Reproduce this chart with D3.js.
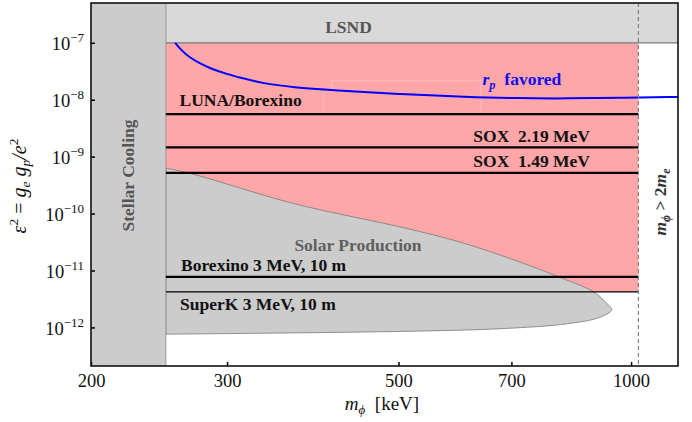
<!DOCTYPE html>
<html>
<head>
<meta charset="utf-8">
<script src="https://cdn.jsdelivr.net/npm/d3@7"></script>
<style>
  body { margin: 0; background: #fff; }
  svg { display: block; font-family: "Liberation Serif", "DejaVu Serif", serif; }
</style>
</head>
<body>
<svg width="692" height="422"></svg>
<script>
// axis ranges and ticks
const massDomain = [200, 1150];
const epsDomain = [2.1e-13, 5e-7];
const massTicks = [200, 300, 500, 700, 1000];
const epsTicks = [-12, -11, -10, -9, -8, -7];

// excluded / allowed regions (keV, eps^2)
const stellarEdge = 250;
const pairThreshold = 1022;
const lsndBound = 1e-7;
const pinkBottom = 4.2e-12;

// horizontal sensitivity lines
const limitNames = ['LUNA/Borexino', 'SOX  2.19 MeV', 'SOX  1.49 MeV', 'Borexino 3 MeV, 10 m', 'SuperK 3 MeV, 10 m'];
const limitValues = [5.6e-9, 1.45e-9, 5.2e-10, 7.7e-12, 4.2e-12];

// r_p favored curve
const rpMass = [257, 262, 268, 276, 285.3, 299.8, 315, 331, 366, 412, 503, 613, 712, 826, 968, 1151];
const rpEps = [1e-7, 7.3e-8, 5.6e-8, 4.4e-8, 3.55e-8, 2.82e-8, 2.37e-8, 1.98e-8, 1.64e-8, 1.47e-8, 1.25e-8, 1.12e-8, 1.06e-8, 1.05e-8, 1.08e-8, 1.12e-8];

// solar production region outline (upper edge to tip, then lower edge back)
const solarMass = [250, 271.5, 366, 518, 613, 748, 810, 895, 931, 944, 913, 827, 678, 503, 250];
const solarEps = [6.3e-10, 4.9e-10, 1.5e-10, 5.3e-11, 2.9e-11, 1.15e-11, 7.5e-12, 4.2e-12, 2.6e-12, 2.05e-12, 1.52e-12, 1.16e-12, 9.5e-13, 8.5e-13, 7.6e-13];

const width = 692;
const height = 422;
const margin = {left: 91, top: 3, right: 14, bottom: 56};

const x = d3.scaleLog().domain(massDomain).range([margin.left, width - margin.right]);
const y = d3.scaleLog().domain(epsDomain).range([height - margin.bottom, margin.top]);

const svg = d3.select('svg');
const x0 = x.range()[0], x1 = x.range()[1];
const yTop = y.range()[1], yBot = y.range()[0];

// pink allowed region
svg.append('rect')
    .attr('x', x(stellarEdge))
    .attr('y', y(lsndBound))
    .attr('width', x(pairThreshold) - x(stellarEdge))
    .attr('height', y(pinkBottom) - y(lsndBound))
    .attr('fill', '#ffa6a8')

// faint label-box artifacts in the pink area
svg.append('path')
    .attr('d', 'M323.3,112V92.5M331.7,90V80.3H481V112')
    .attr('fill', 'none')
    .attr('stroke', 'rgba(255,255,255,0.35)')
    .attr('stroke-width', 0.8)

// LSND
svg.append('rect')
    .attr('x', x(stellarEdge))
    .attr('y', yTop)
    .attr('width', x1 - x(stellarEdge))
    .attr('height', y(lsndBound) - yTop)
    .attr('fill', '#d9d9d9')
svg.append('line')
    .attr('x1', x(stellarEdge)).attr('x2', x1)
    .attr('y1', y(lsndBound)).attr('y2', y(lsndBound))
    .attr('stroke', '#777').attr('stroke-width', 1.2)

// Solar production
const solarPts = solarMass.map((m, i) => [x(m), y(solarEps[i])]);
svg.append('path')
    .attr('d', d3.line().curve(d3.curveCatmullRom.alpha(0.5))(solarPts) + 'Z')
    .attr('fill', '#cccccc')
    .attr('stroke', '#7a7a7a')
    .attr('stroke-width', 0.8)

// Stellar cooling
svg.append('rect')
    .attr('x', x0)
    .attr('y', yTop)
    .attr('width', x(stellarEdge) - x0)
    .attr('height', yBot - yTop)
    .attr('fill', '#cccccc')
svg.append('line')
    .attr('x1', x(stellarEdge)).attr('x2', x(stellarEdge))
    .attr('y1', yTop).attr('y2', yBot)
    .attr('stroke', '#999').attr('stroke-width', 1)

// sensitivity lines
svg.selectAll('.limit')
    .data(limitValues)
    .enter()
    .append('line')
        .attr('x1', x(stellarEdge))
        .attr('x2', x(pairThreshold))
        .attr('y1', d => y(d))
        .attr('y2', d => y(d))
        .attr('stroke', '#000')
        .attr('stroke-width', (d, i) => i === 4 ? 1.2 : 2.2)

// r_p favored curve
svg.append('path')
    .attr('d', d3.line().curve(d3.curveBasis)(rpMass.map((m, i) => [x(m), y(rpEps[i])])))
    .attr('fill', 'none')
    .attr('stroke', '#0000ff')
    .attr('stroke-width', 2)

// pair threshold
svg.append('line')
    .attr('x1', x(pairThreshold)).attr('x2', x(pairThreshold))
    .attr('y1', yTop).attr('y2', yBot)
    .attr('stroke', '#808080')
    .attr('stroke-width', 1.2)
    .attr('stroke-dasharray', '4,3')

// axes
const xAxis = d3.axisBottom(x).tickValues(massTicks).tickSize(-4).tickFormat(d3.format('d'))
const gx = svg.append('g')
    .attr('transform', 'translate(0,' + yBot + ')')
    .call(xAxis)
gx.select('.domain').remove()
gx.selectAll('line').attr('stroke-width', 1.5)
gx.selectAll('text')
    .attr('y', 21)
    .attr('dy', 0)
    .attr('font-size', 18.5)
    .attr('font-family', '"Liberation Serif", serif')
    .attr('fill', '#111')

const yAxis = d3.axisLeft(y).tickValues(epsTicks.map(e => Math.pow(10, e))).tickSize(-4).tickFormat('')
const gy = svg.append('g')
    .attr('transform', 'translate(' + x0 + ',0)')
    .call(yAxis)
gy.select('.domain').remove()
gy.selectAll('line').attr('stroke-width', 1.5)
gy.selectAll('.tick').each(function (d) {
    const t = d3.select(this).append('text')
        .attr('x', -7)
        .attr('y', 7)
        .attr('text-anchor', 'end')
        .attr('fill', '#111')
        .attr('font-family', '"Liberation Serif", serif')
        .attr('font-size', 18.5)
    t.append('tspan').text('10')
    t.append('tspan').attr('dy', -8).attr('font-size', 13).text('\u2212' + (-Math.round(Math.log10(d))))
})

// frame
svg.append('rect')
    .attr('x', x0).attr('y', yTop)
    .attr('width', x1 - x0).attr('height', yBot - yTop)
    .attr('fill', 'none')
    .attr('stroke', '#111')
    .attr('stroke-width', 1.6)

// region labels
const bold = (sel) => sel.attr('font-weight', 'bold').attr('font-size', 17.5)

bold(svg.append('text'))
    .attr('x', 348.5).attr('y', 33)
    .attr('text-anchor', 'middle')
    .attr('fill', '#555')
    .text('LSND')

bold(svg.append('text'))
    .attr('x', 358).attr('y', 250.5)
    .attr('text-anchor', 'middle')
    .attr('fill', '#5f5f5f')
    .text('Solar Production')

bold(svg.append('text'))
    .attr('transform', 'translate(134,175.5) rotate(-90)')
    .attr('text-anchor', 'middle')
    .attr('fill', '#555')
    .text('Stellar Cooling')

const rp = bold(svg.append('text'))
    .attr('x', 482.5).attr('y', 85)
    .attr('fill', '#1010ee')
rp.append('tspan').attr('font-style', 'italic').text('r')
rp.append('tspan').attr('font-style', 'italic').attr('font-size', 12.5).attr('dy', 4).text('p')
rp.append('tspan').attr('dy', -4).text('\u2002favored')

const labelX = [179.5, 473.3, 473.3, 181, 180];
const labelY = [106, 141.7, 166.7, 270.7, 310];
limitNames.forEach((name, i) => {
    bold(svg.append('text'))
        .attr('x', labelX[i]).attr('y', labelY[i])
        .attr('fill', '#111')
        .attr('xml:space', 'preserve')
        .style('white-space', 'pre')
        .text(name)
})

// m_phi > 2 m_e
const th = bold(svg.append('text'))
    .attr('transform', 'translate(666,202) rotate(-90)')
    .attr('text-anchor', 'middle')
    .attr('fill', '#333')
    .attr('font-style', 'italic')
th.append('tspan').text('m')
th.append('tspan').attr('font-size', 12).attr('dy', 4).text('\u03d5')
th.append('tspan').attr('dy', -4).attr('font-style', 'normal').text(' > 2')
th.append('tspan').text('m')
th.append('tspan').attr('font-size', 12).attr('dy', 4).text('e')

// axis titles
const xt = svg.append('text')
    .attr('x', 382).attr('y', 410)
    .attr('text-anchor', 'middle')
    .attr('font-size', 19)
    .attr('fill', '#111')
xt.append('tspan').attr('font-style', 'italic').text('m')
xt.append('tspan').attr('font-style', 'italic').attr('font-size', 13).attr('dy', 4).text('\u03d5')
xt.append('tspan').attr('dy', -4).style('white-space', 'pre').text('  [keV]')

const yt = svg.append('text')
    .attr('transform', 'translate(26,186) rotate(-90)')
    .attr('text-anchor', 'middle')
    .attr('font-size', 20)
    .attr('fill', '#111')
    .style('white-space', 'pre')
yt.append('tspan').attr('font-style', 'italic').text('\u03b5')
yt.append('tspan').attr('font-size', 13.5).attr('dy', -8).text('2')
yt.append('tspan').attr('dy', 8).text(' = ')
yt.append('tspan').attr('font-style', 'italic').text('g')
yt.append('tspan').attr('font-style', 'italic').attr('font-size', 13.5).attr('dy', 4).text('e')
yt.append('tspan').attr('dy', -4).attr('font-style', 'italic').text(' g')
yt.append('tspan').attr('font-style', 'italic').attr('font-size', 13.5).attr('dy', 4).text('p')
yt.append('tspan').attr('dy', -4).attr('font-style', 'italic').text('/e')
yt.append('tspan').attr('font-size', 13.5).attr('dy', -8).text('2')
</script>
</body>
</html>
